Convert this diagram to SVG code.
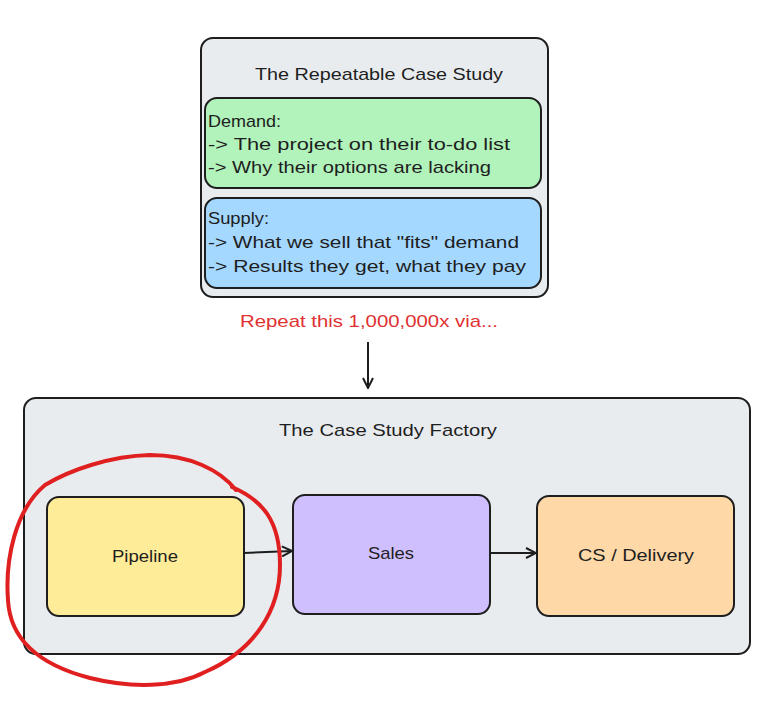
<svg xmlns="http://www.w3.org/2000/svg" width="778" height="703" viewBox="0 0 778 703">
<style>
.box{stroke:#1e1e1e;stroke-width:2;}
.t{font-family:"Liberation Sans","DejaVu Sans",sans-serif;font-size:17px;fill:#1e1e1e;}
.c{text-anchor:middle;}
.conn{stroke:#1e1e1e;stroke-width:2;fill:none;}
</style>
<defs>
<marker id="ah" viewBox="0 0 12 12" refX="11" refY="6" markerWidth="12" markerHeight="12" markerUnits="userSpaceOnUse" orient="auto">
<path d="M1,1 L11,6 L1,11" fill="none" stroke="#1e1e1e" stroke-width="2"/>
</marker>
</defs>
<rect width="778" height="703" fill="#ffffff"/>
<g id="repeatable">
<rect class="box" x="201" y="38" width="347" height="259" rx="12" fill="#e9ecef"/>
<text class="t c" x="379" y="80" textLength="248" lengthAdjust="spacingAndGlyphs">The Repeatable Case Study</text>
</g>
<g id="demand">
<rect class="box" x="205" y="98" width="336" height="90" rx="12" fill="#b2f2bb"/>
<text class="t" x="208" y="127" textLength="73" lengthAdjust="spacingAndGlyphs">Demand:</text>
<text class="t" x="208" y="150" textLength="302" lengthAdjust="spacingAndGlyphs">-&gt; The project on their to-do list</text>
<text class="t" x="208" y="173" textLength="283" lengthAdjust="spacingAndGlyphs">-&gt; Why their options are lacking</text>
</g>
<g id="supply">
<rect class="box" x="205" y="198" width="336" height="90" rx="12" fill="#a5d8ff"/>
<text class="t" x="208" y="224" textLength="61" lengthAdjust="spacingAndGlyphs">Supply:</text>
<text class="t" x="208" y="248" textLength="311" lengthAdjust="spacingAndGlyphs">-&gt; What we sell that "fits" demand</text>
<text class="t" x="208" y="272" textLength="318" lengthAdjust="spacingAndGlyphs">-&gt; Results they get, what they pay</text>
</g>
<g id="repeat-label">
<text class="t c" x="369" y="327" fill="#e03131" style="fill:#e03131" textLength="258" lengthAdjust="spacingAndGlyphs">Repeat this 1,000,000x via...</text>
</g>
<g id="factory">
<rect class="box" x="24" y="398" width="726" height="256" rx="12" fill="#e9ecef"/>
<text class="t c" x="388" y="436" textLength="218" lengthAdjust="spacingAndGlyphs">The Case Study Factory</text>
</g>
<g id="pipeline">
<rect class="box" x="47" y="497" width="197" height="119" rx="12" fill="#ffec99"/>
<text class="t c" x="145" y="562" textLength="66" lengthAdjust="spacingAndGlyphs">Pipeline</text>
</g>
<g id="sales">
<rect class="box" x="293" y="495" width="197" height="119" rx="12" fill="#d0bfff"/>
<text class="t c" x="391" y="559" textLength="46" lengthAdjust="spacingAndGlyphs">Sales</text>
</g>
<g id="delivery">
<rect class="box" x="537" y="496" width="197" height="120" rx="12" fill="#ffd8a8"/>
<text class="t c" x="636" y="561" textLength="116" lengthAdjust="spacingAndGlyphs">CS / Delivery</text>
</g>
<g id="connectors">
<path class="conn" d="M368,342 L368,388" marker-end="url(#ah)"/>
<path class="conn" d="M244,553 L292,551" marker-end="url(#ah)"/>
<path class="conn" d="M490,553 L536,553" marker-end="url(#ah)"/>
</g>
<g id="highlight">
<path d="M236,490 C220,470 190,455 150,455 C110,456 70,470 45,485 C15,510 5,560 8,600 C10,640 40,665 90,678 C130,688 175,688 205,672 C255,650 280,610 280,565 C280,520 262,500 232,487" fill="none" stroke="#e02020" stroke-width="4" stroke-linecap="round"/>
</g>
</svg>
